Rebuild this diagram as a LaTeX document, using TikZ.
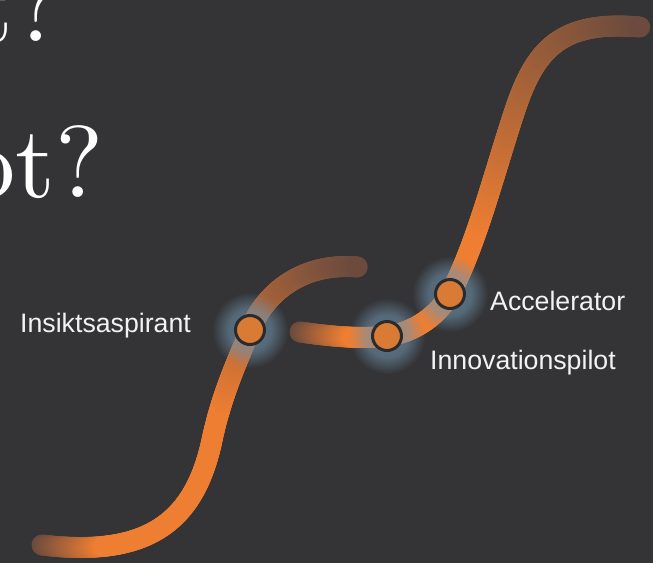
\documentclass[tikz,border=0pt]{standalone}
\usepackage{fontspec}
\newfontfamily\labelfont{Liberation Sans}
\newfontfamily\bigfont{lmroman10-regular.otf}
\usetikzlibrary{decorations.markings,fadings}

\definecolor{bgC}{HTML}{343436}
\definecolor{orangeC}{HTML}{EE7E32}
\definecolor{brownC}{HTML}{6B4B3E}
\definecolor{glowC}{HTML}{7094AE}
\definecolor{dotC}{HTML}{D97A35}
\definecolor{rimC}{HTML}{2B2B2D}
\definecolor{txtC}{HTML}{F2F2F2}

\pgfdeclareradialshading{glowshade}{\pgfpointorigin}{color(0bp)=(white!70!black); color(14bp)=(white!55!black); color(25bp)=(black); color(50bp)=(black)}
\pgfdeclarefading{glowfade}{\pgfuseshading{glowshade}}

% #1 fraction (0-100), #2 end of ramp-in, #3 start of fade-out
\newcommand{\gradcol}[3]{%
  \pgfmathsetmacro{\gp}{(#1<#2) ? (100*#1/#2) : ((#1<#3) ? 100 : (100*(100-#1)/(100-#3)))}%
  \colorlet{gc}{orangeC!\gp!brownC}}

\tikzset{
  gradpath/.style 2 args={decorate, decoration={markings,
    mark=between positions 0 and 1 step 1pt with {%
      \pgfmathsetmacro{\ff}{\pgfkeysvalueof{/pgf/decoration/mark info/distance from start}/\pgfdecoratedpathlength*100}%
      \gradcol{\ff}{#1}{#2}%
      \fill[gc] (0,0) circle (10.5pt);}}},
  dotnode/.style={circle, fill=dotC, draw=rimC, line width=3pt, minimum size=29pt, inner sep=0pt},
  lbl/.style={text=txtC, font=\labelfont\fontsize{26.7}{31}\selectfont, inner sep=0pt, anchor=base west},
  bigq/.style={text=white, font=\bigfont\fontsize{102}{120}\selectfont, inner sep=0pt, anchor=base east},
  glow/.style={fill=glowC, path fading=glowfade}
}

\begin{document}
\begin{tikzpicture}[x=1pt,y=-1pt]
\useasboundingbox (0,0) rectangle (653,563);
\clip (0,0) rectangle (653,563);
\fill[bgC] (0,0) rectangle (653,563);

% large title fragments
\node[bigq] (q1) at (62,41) {t?};
\node[bigq] (q2) at (104,197) {ot?};

% positions of the stages
\coordinate (c1) at (250,330);
\coordinate (c2) at (387,336);
\coordinate (c3) at (450,294);

% curve 1
\path[gradpath={13}{55}] (42,545) .. controls (150,558) and (195,520) .. (212,440)
   .. controls (222,393) and (238,360) .. (c1)
   .. controls (264,295) and (300,262) .. (358,267);

% curve 2
\path[gradpath={10}{45}] (300,332) .. controls (335,337) and (362,339) .. (c2)
   .. controls (413,333) and (438,316) .. (c3)
   .. controls (476,246) and (495,170) .. (515,110)
   .. controls (535,50) and (560,20) .. (640,27);

% glows
\fill[glow] (c1) circle (38pt);
\fill[glow] (c2) circle (38pt);
\fill[glow] (c3) circle (38pt);

% stage dots
\node[dotnode] (n1) at (c1) {};
\node[dotnode] (n2) at (c2) {};
\node[dotnode] (n3) at (c3) {};

% labels
\node[lbl] (l1) at (20,332) {Insiktsaspirant};
\node[lbl] (l2) at (430,369) {Innovationspilot};
\node[lbl] (l3) at (490,310) {Accelerator};
\end{tikzpicture}
\end{document}
